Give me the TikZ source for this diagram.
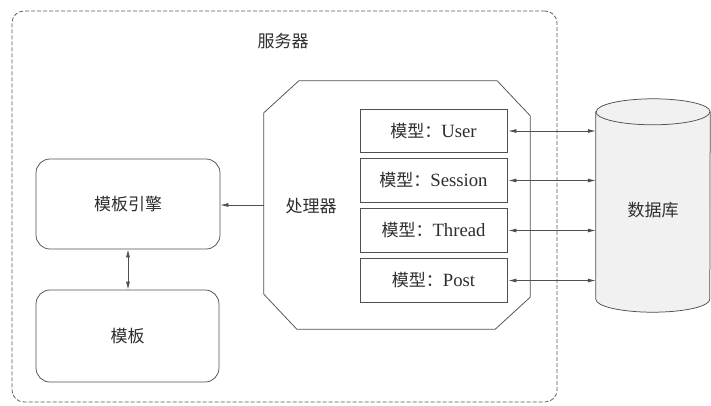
\documentclass[tikz,border=0pt]{standalone}
\usepackage{fontspec}
\setmainfont{Liberation Serif}[Scale=1.1]
\newfontfamily\cjk{Noto Sans CJK SC}
\usetikzlibrary{arrows.meta,calc}
\definecolor{linec}{HTML}{505050}
\definecolor{dashc}{HTML}{5A5A5A}
\definecolor{txtc}{HTML}{2E2E2E}
\definecolor{dbfill}{HTML}{F1F1F1}
\tikzset{
  ln/.style={draw=linec, line width=0.75pt},
  arr/.style={ln, {Latex[length=8pt,width=4pt]}-{Latex[length=8pt,width=4pt]}},
  arrone/.style={ln, -{Latex[length=8pt,width=4pt]}},
  rbox/.style={ln, rounded corners=14pt, inner sep=0pt, text=txtc},
  mbox/.style={ln, inner sep=0pt, minimum width=147pt, minimum height=43.5pt, text=txtc},
  ghost/.style={inner sep=0pt},
  lbl/.style={text=txtc, inner sep=0pt},
}
\begin{document}
\begin{tikzpicture}[x=1pt,y=-1pt,font=\fontsize{17}{20}\selectfont]
\useasboundingbox (0,0) rectangle (711,405);
\fill[white] (0,0) rectangle (711,405);
% server
\node[draw=dashc, line width=0.75pt, dash pattern=on 4pt off 2pt, rounded corners=12pt,
      minimum width=545pt, minimum height=391pt, inner sep=0pt] (server) at (284.5,206.5) {};
\node[lbl] (serverlbl) at (283,41) {\cjk 服务器};
% template engine and template
\node[rbox, minimum width=184pt, minimum height=90pt] (engine) at (128,204) {\cjk 模板引擎};
\node[rbox, minimum width=183pt, minimum height=92pt] (tmpl) at (127.5,336) {\cjk 模板};
\draw[arr] (engine.south) -- (engine.south |- tmpl.north);
% processor octagon
\node[ghost, minimum width=266pt, minimum height=248pt] (proc) at (397,205) {};
\draw[ln] ($(proc.north west)+(35,0)$) -- ($(proc.north east)+(-33,0)$)
  -- ($(proc.north east)+(0,35)$) -- ($(proc.south east)+(0,-32)$)
  -- ($(proc.south east)+(-35,0)$) -- ($(proc.south west)+(33,0)$)
  -- ($(proc.south west)+(0,-35)$) -- ($(proc.north west)+(0,32)$) -- cycle;
\node[lbl] (proclbl) at (311,206) {\cjk 处理器};
\draw[arrone] (proc.west) -- (proc.west -| engine.east);
% models
\node[mbox] (mUser) at (433.5,131) {{\cjk 模型：}User};
\node[mbox] (mSession) at (433.5,180.5) {{\cjk 模型：}Session};
\node[mbox] (mThread) at (433.5,230.5) {{\cjk 模型：}Thread};
\node[mbox] (mPost) at (433.5,280.5) {{\cjk 模型：}Post};
% database cylinder
\node[ghost, minimum width=114pt, minimum height=187pt] (db) at (653,205.5) {};
\filldraw[ln, fill=dbfill] (db.north west) -- (db.south west)
  arc[start angle=180, end angle=360, x radius=57pt, y radius=13pt]
  -- (db.north east)
  arc[start angle=0, end angle=180, x radius=57pt, y radius=13pt] -- cycle;
\draw[ln] (db.north west) arc[start angle=180, end angle=360, x radius=57pt, y radius=13pt];
\node[lbl] (dblbl) at (653,210) {\cjk 数据库};
% model <-> db arrows
\draw[arr] ([xshift=1pt]mUser.east) -- (mUser.east -| db.west);
\draw[arr] ([xshift=1pt]mSession.east) -- (mSession.east -| db.west);
\draw[arr] ([xshift=1pt]mThread.east) -- (mThread.east -| db.west);
\draw[arr] ([xshift=1pt]mPost.east) -- (mPost.east -| db.west);
\end{tikzpicture}
\end{document}
